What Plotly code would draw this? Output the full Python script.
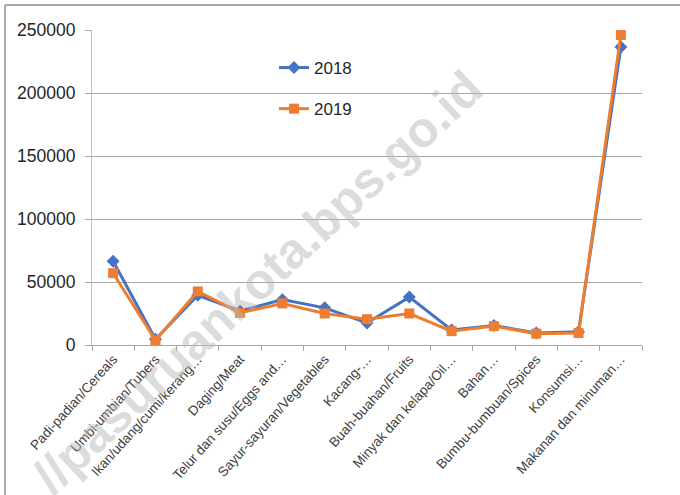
import plotly.graph_objects as go

categories = ["Padi-padian/Cereals", "Umbi-umbian/Tubers", "Ikan/udang/cumi/kerang…",
              "Daging/Meat", "Telur dan susu/Eggs and…", "Sayur-sayuran/Vegetables",
              "Kacang-…", "Buah-buahan/Fruits", "Minyak dan kelapa/Oil…", "Bahan…",
              "Bumbu-bumbuan/Spices", "Konsumsi…", "Makanan dan minuman…"]
v2018 = [66500, 4500, 39500, 27000, 36000, 29500, 17500, 38000, 12000, 15500, 9500, 10500, 236500]
v2019 = [57000, 3800, 42500, 25500, 33000, 25000, 20500, 25000, 11000, 15000, 9000, 9500, 246000]
y_ticks = [0, 50000, 100000, 150000, 200000, 250000]

W, H = 680, 495
OFF = 0  # body margin removed via post_script
# desired plot area in screen pixels: x 92..642, y 30..345
L = 92 - OFF
T = 30 - OFF
R = W - (642 - OFF)
B = H - (345 - OFF)
pw, ph = W - L - R, H - T - B

def px_x(p):
    return (p - OFF - L) / pw

def px_y(p):
    return (H - B - (p - OFF)) / ph

fig = go.Figure()
fig.add_trace(go.Scatter(x=categories, y=v2018, name="2018", mode="lines+markers",
                         line=dict(color="#4472C4", width=3),
                         marker=dict(symbol="diamond", size=10, color="#4472C4"),
                         legendgroup="a"))
fig.add_trace(go.Scatter(x=categories, y=v2019, name="2019", mode="lines+markers",
                         line=dict(color="#ED7D31", width=3),
                         marker=dict(symbol="square", size=10, color="#ED7D31"),
                         legendgroup="b"))

fig.update_layout(
    width=W, height=H,
    margin=dict(l=L, r=R, t=T, b=B, autoexpand=False),
    paper_bgcolor="white", plot_bgcolor="white",
    font=dict(family="Liberation Sans", color="#262626"),
    legend=dict(x=px_x(274), y=px_y(50), xanchor="left", yanchor="top",
                bgcolor="rgba(0,0,0,0)", font=dict(size=17, color="#262626"),
                tracegroupgap=16),
    xaxis=dict(type="category", range=[-0.5, len(categories) - 0.5],
               showline=True, linecolor="#a6a6a6", linewidth=1,
               ticks="outside", tickson="boundaries", ticklen=5, tickcolor="#a6a6a6",
               tickangle=-48, tickfont=dict(size=13.5, color="#404040"),
               showgrid=False, zeroline=False, automargin=False),
    yaxis=dict(range=[0, 250000], tickvals=y_ticks, ticktext=[str(v) for v in y_ticks],
               showgrid=True, gridcolor="#a6a6a6", gridwidth=1,
               showline=True, linecolor="#bfbfbf", ticks="outside", ticklen=6,
               tickcolor="#a6a6a6", tickfont=dict(size=17.5, color="#262626"),
               ticklabelstandoff=6, zeroline=False, automargin=False),
    showlegend=True,
)

# outer chart frame (left and top edges visible)
fig.add_shape(type="line", xref="paper", yref="paper",
              x0=px_x(5), x1=px_x(5), y0=px_y(5), y1=px_y(510),
              line=dict(color="#8c8c8c", width=1.5))
fig.add_shape(type="line", xref="paper", yref="paper",
              x0=px_x(5), x1=px_x(700), y0=px_y(5), y1=px_y(5),
              line=dict(color="#8c8c8c", width=1.5))

# watermark
fig.add_annotation(text="//pasuruankota.bps.go.id", xref="paper", yref="paper",
                   x=px_x(258), y=px_y(282), showarrow=False, textangle=-43,
                   font=dict(size=50, family="Liberation Sans", weight="bold",
                             color="rgba(185,185,185,0.5)"),
                   xanchor="center", yanchor="middle")

fig.write_html("out.html", config={"displayModeBar": False},
               post_script="document.body.style.margin='0';")
